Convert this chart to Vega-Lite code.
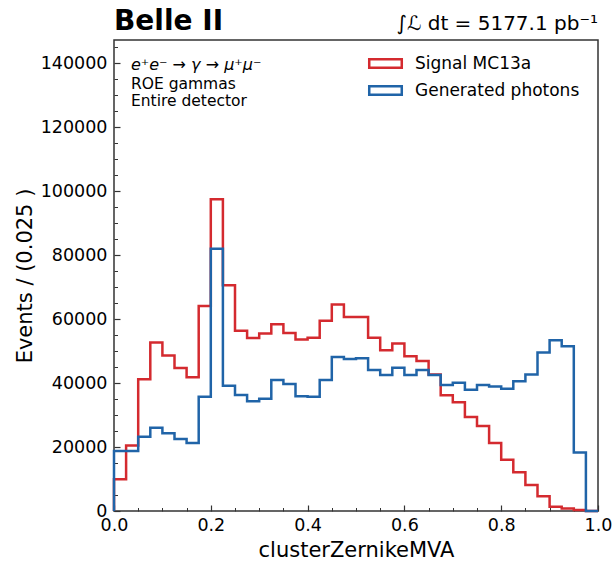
{
  "$schema": "https://vega.github.io/schema/vega-lite/v6.json",
  "width": 484,
  "height": 471,
  "autosize": {"type": "none"},
  "padding": {"left": 114, "top": 40, "right": 14, "bottom": 53},
  "background": "white",
  "config": {
    "font": "DejaVu Sans",
    "view": {"stroke": "#333", "strokeWidth": 1.5},
    "axis": {"labelFont": "DejaVu Sans", "titleFont": "DejaVu Sans", "labelColor": "black", "titleColor": "black", "tickColor": "#333", "grid": false, "domain": false, "titleFontWeight": "normal"}
  },
  "datasets": {
    "hist": [
      {"sample": "Signal MC13a", "hi": 0.0, "n": 0},
      {"sample": "Signal MC13a", "hi": 0.025, "n": 9900},
      {"sample": "Signal MC13a", "hi": 0.05, "n": 20500},
      {"sample": "Signal MC13a", "hi": 0.075, "n": 41200},
      {"sample": "Signal MC13a", "hi": 0.1, "n": 52700},
      {"sample": "Signal MC13a", "hi": 0.125, "n": 48600},
      {"sample": "Signal MC13a", "hi": 0.15, "n": 44700},
      {"sample": "Signal MC13a", "hi": 0.175, "n": 41800},
      {"sample": "Signal MC13a", "hi": 0.2, "n": 64100},
      {"sample": "Signal MC13a", "hi": 0.225, "n": 97500},
      {"sample": "Signal MC13a", "hi": 0.25, "n": 70600},
      {"sample": "Signal MC13a", "hi": 0.275, "n": 56400},
      {"sample": "Signal MC13a", "hi": 0.3, "n": 54100},
      {"sample": "Signal MC13a", "hi": 0.325, "n": 55500},
      {"sample": "Signal MC13a", "hi": 0.35, "n": 58400},
      {"sample": "Signal MC13a", "hi": 0.375, "n": 55700},
      {"sample": "Signal MC13a", "hi": 0.4, "n": 53600},
      {"sample": "Signal MC13a", "hi": 0.425, "n": 54200},
      {"sample": "Signal MC13a", "hi": 0.45, "n": 59500},
      {"sample": "Signal MC13a", "hi": 0.475, "n": 64600},
      {"sample": "Signal MC13a", "hi": 0.5, "n": 60700},
      {"sample": "Signal MC13a", "hi": 0.525, "n": 60700},
      {"sample": "Signal MC13a", "hi": 0.55, "n": 54200},
      {"sample": "Signal MC13a", "hi": 0.575, "n": 50300},
      {"sample": "Signal MC13a", "hi": 0.6, "n": 52400},
      {"sample": "Signal MC13a", "hi": 0.625, "n": 48400},
      {"sample": "Signal MC13a", "hi": 0.65, "n": 46900},
      {"sample": "Signal MC13a", "hi": 0.675, "n": 42700},
      {"sample": "Signal MC13a", "hi": 0.7, "n": 36200},
      {"sample": "Signal MC13a", "hi": 0.725, "n": 34000},
      {"sample": "Signal MC13a", "hi": 0.75, "n": 29400},
      {"sample": "Signal MC13a", "hi": 0.775, "n": 26600},
      {"sample": "Signal MC13a", "hi": 0.8, "n": 21300},
      {"sample": "Signal MC13a", "hi": 0.825, "n": 16000},
      {"sample": "Signal MC13a", "hi": 0.85, "n": 12100},
      {"sample": "Signal MC13a", "hi": 0.875, "n": 8100},
      {"sample": "Signal MC13a", "hi": 0.9, "n": 4600},
      {"sample": "Signal MC13a", "hi": 0.925, "n": 1300},
      {"sample": "Signal MC13a", "hi": 0.95, "n": 800},
      {"sample": "Signal MC13a", "hi": 0.975, "n": 300},
      {"sample": "Signal MC13a", "hi": 1.0, "n": 0},
      {"sample": "Generated photons", "hi": 0.0, "n": 0},
      {"sample": "Generated photons", "hi": 0.025, "n": 18800},
      {"sample": "Generated photons", "hi": 0.05, "n": 18800},
      {"sample": "Generated photons", "hi": 0.075, "n": 23200},
      {"sample": "Generated photons", "hi": 0.1, "n": 26000},
      {"sample": "Generated photons", "hi": 0.125, "n": 24300},
      {"sample": "Generated photons", "hi": 0.15, "n": 22500},
      {"sample": "Generated photons", "hi": 0.175, "n": 21300},
      {"sample": "Generated photons", "hi": 0.2, "n": 35700},
      {"sample": "Generated photons", "hi": 0.225, "n": 82000},
      {"sample": "Generated photons", "hi": 0.25, "n": 39200},
      {"sample": "Generated photons", "hi": 0.275, "n": 36300},
      {"sample": "Generated photons", "hi": 0.3, "n": 34300},
      {"sample": "Generated photons", "hi": 0.325, "n": 35100},
      {"sample": "Generated photons", "hi": 0.35, "n": 41000},
      {"sample": "Generated photons", "hi": 0.375, "n": 39700},
      {"sample": "Generated photons", "hi": 0.4, "n": 35900},
      {"sample": "Generated photons", "hi": 0.425, "n": 35700},
      {"sample": "Generated photons", "hi": 0.45, "n": 41000},
      {"sample": "Generated photons", "hi": 0.475, "n": 48200},
      {"sample": "Generated photons", "hi": 0.5, "n": 47500},
      {"sample": "Generated photons", "hi": 0.525, "n": 47800},
      {"sample": "Generated photons", "hi": 0.55, "n": 44100},
      {"sample": "Generated photons", "hi": 0.575, "n": 42500},
      {"sample": "Generated photons", "hi": 0.6, "n": 44800},
      {"sample": "Generated photons", "hi": 0.625, "n": 42500},
      {"sample": "Generated photons", "hi": 0.65, "n": 44100},
      {"sample": "Generated photons", "hi": 0.675, "n": 42500},
      {"sample": "Generated photons", "hi": 0.7, "n": 39400},
      {"sample": "Generated photons", "hi": 0.725, "n": 40100},
      {"sample": "Generated photons", "hi": 0.75, "n": 37900},
      {"sample": "Generated photons", "hi": 0.775, "n": 39400},
      {"sample": "Generated photons", "hi": 0.8, "n": 38900},
      {"sample": "Generated photons", "hi": 0.825, "n": 38200},
      {"sample": "Generated photons", "hi": 0.85, "n": 40600},
      {"sample": "Generated photons", "hi": 0.875, "n": 42700},
      {"sample": "Generated photons", "hi": 0.9, "n": 49600},
      {"sample": "Generated photons", "hi": 0.925, "n": 53400},
      {"sample": "Generated photons", "hi": 0.95, "n": 51500},
      {"sample": "Generated photons", "hi": 0.975, "n": 18300},
      {"sample": "Generated photons", "hi": 1.0, "n": 0}
    ]
  },
  "resolve": {"axis": {"x": "independent", "y": "independent"}},
  "layer": [
    {
      "data": {"name": "hist"},
      "mark": {"type": "line", "interpolate": "step-before", "strokeWidth": 2.5, "strokeJoin": "miter"},
      "encoding": {
        "x": {"field": "hi", "type": "quantitative", "scale": {"domain": [0, 1], "nice": false, "zero": false},
          "axis": {"orient": "bottom", "values": [0, 0.2, 0.4, 0.6, 0.8, 1.0], "format": ".1f", "tickSize": -6, "tickWidth": 1.2, "labelPadding": 11, "labelFontSize": 17.5, "title": "clusterZernikeMVA", "titleFontSize": 21, "titlePadding": 6, "labelFlush": false}},
        "y": {"field": "n", "type": "quantitative", "scale": {"domain": [0, 147300], "nice": false},
          "axis": {"orient": "left", "values": [0, 20000, 40000, 60000, 80000, 100000, 120000, 140000], "format": "d", "tickSize": -6, "tickWidth": 1.2, "labelPadding": 13, "labelFontSize": 17.5, "title": "Events / (0.025 )", "titleFontSize": 21, "titlePadding": 5}},
        "color": {"field": "sample", "type": "nominal", "sort": ["Signal MC13a", "Generated photons"],
          "scale": {"domain": ["Signal MC13a", "Generated photons"], "range": ["#d42a2f", "#2064a8"]},
          "legend": {"orient": "none", "legendX": 263, "legendY": 15, "title": null, "padding": 0, "symbolType": "M-2.79,-0.73H2.79V0.73H-2.79Z", "symbolSize": 136, "symbolStrokeWidth": 2.5, "symbolFillColor": "transparent", "labelFontSize": 17, "labelFont": "DejaVu Sans", "labelColor": "black", "labelOffset": 21, "labelLimit": 400, "rowPadding": 8}}
      }
    },
    {
      "data": {"values": [{}]},
      "mark": {"type": "point", "opacity": 0},
      "encoding": {
        "x": {"datum": 0, "type": "quantitative", "axis": {"orient": "bottom", "values": [0.05, 0.1, 0.15, 0.25, 0.3, 0.35, 0.45, 0.5, 0.55, 0.65, 0.7, 0.75, 0.85, 0.9, 0.95], "tickSize": -3.5, "tickWidth": 1, "labels": false, "title": null}},
        "y": {"datum": 0, "type": "quantitative", "axis": {"orient": "left", "values": [5000, 10000, 15000, 25000, 30000, 35000, 45000, 50000, 55000, 65000, 70000, 75000, 85000, 90000, 95000, 105000, 110000, 115000, 125000, 130000, 135000, 145000], "tickSize": -3.5, "tickWidth": 1, "labels": false, "title": null}}
      }
    },
    {
      "data": {"values": [{}]},
      "mark": {"type": "text", "align": "left", "baseline": "alphabetic", "dy": -10, "fontSize": 28, "fontWeight": "bold", "font": "DejaVu Sans", "color": "black"},
      "encoding": {
        "x": {"datum": 0, "type": "quantitative", "axis": null},
        "y": {"datum": 147300, "type": "quantitative", "axis": null},
        "text": {"value": "Belle II"}
      }
    },
    {
      "data": {"values": [{}]},
      "mark": {"type": "text", "align": "right", "baseline": "alphabetic", "dy": -10, "fontSize": 20, "font": "DejaVu Sans", "color": "black"},
      "encoding": {
        "x": {"datum": 1.0, "type": "quantitative", "axis": null},
        "y": {"datum": 147300, "type": "quantitative", "axis": null},
        "text": {"value": "∫ℒ dt = 5177.1 pb⁻¹"}
      }
    },
    {
      "data": {"values": [{}]},
      "mark": {"type": "text", "align": "left", "baseline": "middle", "fontSize": 16, "fontStyle": "italic", "font": "DejaVu Sans", "color": "black"},
      "encoding": {
        "x": {"datum": 0.035, "type": "quantitative", "axis": null},
        "y": {"datum": 139500, "type": "quantitative", "axis": null},
        "text": {"value": "e⁺e⁻ → γ → μ⁺μ⁻"}
      }
    },
    {
      "data": {"values": [{}]},
      "mark": {"type": "text", "align": "left", "baseline": "middle", "fontSize": 15.5, "font": "DejaVu Sans", "color": "black"},
      "encoding": {
        "x": {"datum": 0.035, "type": "quantitative", "axis": null},
        "y": {"datum": 133500, "type": "quantitative", "axis": null},
        "text": {"value": "ROE gammas"}
      }
    },
    {
      "data": {"values": [{}]},
      "mark": {"type": "text", "align": "left", "baseline": "middle", "fontSize": 15.5, "font": "DejaVu Sans", "color": "black"},
      "encoding": {
        "x": {"datum": 0.035, "type": "quantitative", "axis": null},
        "y": {"datum": 128200, "type": "quantitative", "axis": null},
        "text": {"value": "Entire detector"}
      }
    }
  ]
}
